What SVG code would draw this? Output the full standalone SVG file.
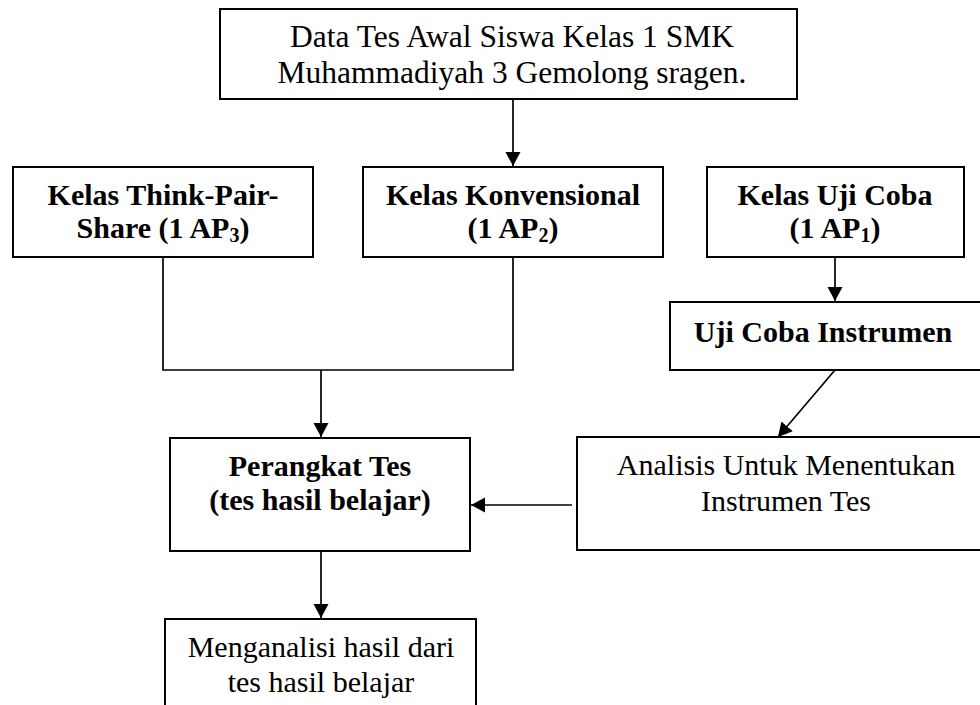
<svg xmlns="http://www.w3.org/2000/svg" width="980" height="705" viewBox="0 0 980 705">
<style>
.box{fill:#fff;stroke:#000;stroke-width:2}
.t{font-family:"Liberation Serif","Times New Roman",serif;font-size:30px;fill:#000;text-anchor:middle}
.lg{font-size:31.5px}
.b{font-weight:bold}
.sub{font-size:20px}
.ln{stroke:#000;stroke-width:1.7;fill:none}
</style>
<defs>
<marker id="ah" markerUnits="userSpaceOnUse" markerWidth="16" markerHeight="16" refX="14" refY="7.5" orient="auto">
<path d="M0,0 L14,7.5 L0,15 Z" fill="#000"/>
</marker>
</defs>
<rect width="980" height="705" fill="#fff"/>
<g id="connectors">
<line class="ln" x1="513" y1="99" x2="513" y2="166" marker-end="url(#ah)"/>
<line class="ln" x1="835" y1="257" x2="835" y2="301" marker-end="url(#ah)"/>
<polyline class="ln" points="163,257 163,370 513,370 513,257"/>
<line class="ln" x1="321" y1="370" x2="321" y2="437" marker-end="url(#ah)"/>
<line class="ln" x1="835" y1="370" x2="778" y2="437" marker-end="url(#ah)"/>
<line class="ln" x1="572" y1="505" x2="471" y2="505" marker-end="url(#ah)"/>
<line class="ln" x1="321" y1="551" x2="321" y2="618" marker-end="url(#ah)"/>
</g>
<g id="n-data">
<rect class="box" x="220" y="9" width="577" height="90"/>
<text class="t lg" x="512" y="47">Data Tes Awal Siswa Kelas 1 SMK</text>
<text class="t lg" x="512" y="83">Muhammadiyah 3 Gemolong sragen.</text>
</g>
<g id="n-tps">
<rect class="box" x="13" y="167" width="300" height="90"/>
<text class="t b" x="163" y="205">Kelas Think-Pair-</text>
<text class="t b" x="163" y="238">Share (1 AP<tspan class="sub" dy="4">3</tspan><tspan dy="-4">)</tspan></text>
</g>
<g id="n-konv">
<rect class="box" x="363" y="167" width="300" height="90"/>
<text class="t b" x="513" y="205">Kelas Konvensional</text>
<text class="t b" x="513" y="238">(1 AP<tspan class="sub" dy="4">2</tspan><tspan dy="-4">)</tspan></text>
</g>
<g id="n-ujicoba">
<rect class="box" x="707" y="167" width="257" height="90"/>
<text class="t b" x="835" y="205">Kelas Uji Coba</text>
<text class="t b" x="835" y="238">(1 AP<tspan class="sub" dy="4">1</tspan><tspan dy="-4">)</tspan></text>
</g>
<g id="n-instrumen">
<rect class="box" x="670" y="302" width="330" height="68"/>
<text class="t b" x="823" y="342">Uji Coba Instrumen</text>
</g>
<g id="n-perangkat">
<rect class="box" x="170" y="438" width="300" height="113"/>
<text class="t b" x="320" y="476">Perangkat Tes</text>
<text class="t b" x="320" y="510">(tes hasil belajar)</text>
</g>
<g id="n-analisis">
<rect class="box" x="577" y="437" width="420" height="113"/>
<text class="t" x="786" y="475">Analisis Untuk Menentukan</text>
<text class="t" x="786" y="511">Instrumen Tes</text>
</g>
<g id="n-menganalisi">
<rect class="box" x="165" y="619" width="311" height="100"/>
<text class="t" x="321" y="657">Menganalisi hasil dari</text>
<text class="t" x="321" y="692">tes hasil belajar</text>
</g>
</svg>
